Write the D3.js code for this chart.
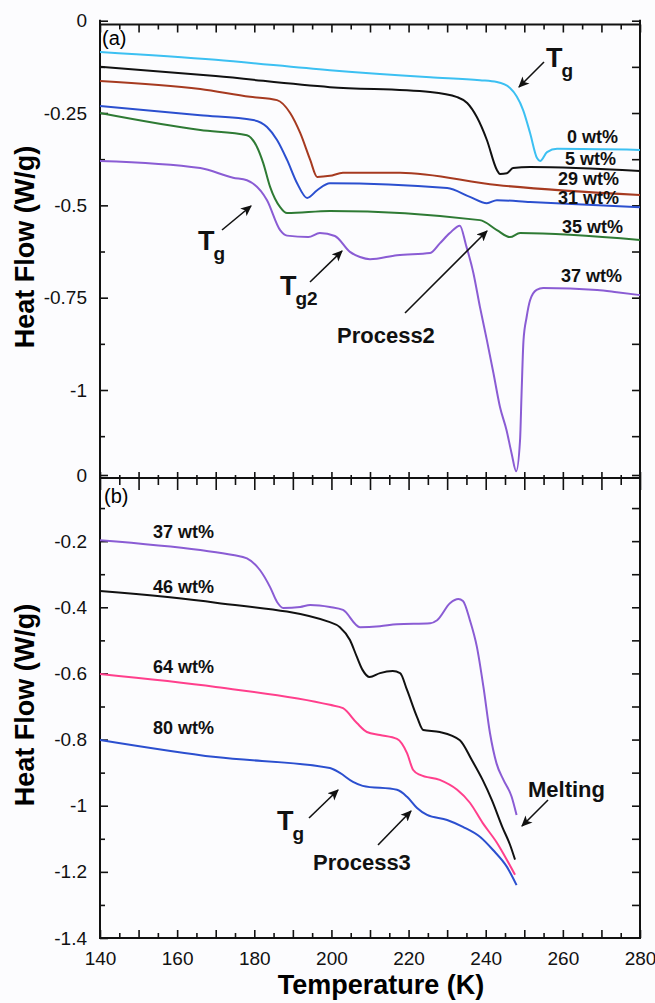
<!DOCTYPE html>
<html>
<head>
<meta charset="utf-8">
<script src="https://cdn.jsdelivr.net/npm/d3@7"></script>
<style>
body { margin: 0; background: #fcfcfe; }
svg { display: block; font-family: "Liberation Sans", Arial, Helvetica, sans-serif; }
.axis path.domain { display: none; }
.axis line { stroke: #111; stroke-width: 1.6; }
.axis text { font-size: 19px; fill: #111; font-family: "Liberation Sans", Arial, sans-serif; }
.curve { fill: none; stroke-width: 2; stroke-linejoin: round; }
.wt { font-size: 18px; font-weight: bold; fill: #111; }
.note { font-size: 22px; font-weight: bold; fill: #111; }
</style>
</head>
<body>
<svg id="chart" width="655" height="1003"></svg>
<script>
// ---- data (Temperature K, Heat Flow W/g) ----
// panel (a)
var a0wt = [[140,-0.085],[170,-0.106],[199.6,-0.134],[225.6,-0.153],[238.5,-0.161],[242.9,-0.166],[246.3,-0.182],
  [249.7,-0.242],[251.5,-0.304],[253.3,-0.372],[254.1,-0.380],[255.9,-0.356],[258.5,-0.347],[280,-0.350]];
var a5wt = [[140,-0.125],[170,-0.150],[199.6,-0.180],[225.6,-0.193],[232.6,-0.207],[235.2,-0.223],[237.7,-0.261],
  [240.3,-0.323],[242.9,-0.404],[243.7,-0.415],[245.5,-0.413],[247.1,-0.399],[251.5,-0.396],[280,-0.407]];
var a29wt = [[140,-0.163],[166,-0.185],[178.9,-0.206],[185.9,-0.215],[189.3,-0.250],[191.9,-0.304],[194.5,-0.377],
  [196.3,-0.423],[199.6,-0.420],[203,-0.412],[217.8,-0.412],[242.9,-0.445],[280,-0.472]];
var a31wt = [[140,-0.231],[166,-0.256],[179.7,-0.269],[183.3,-0.288],[185.9,-0.323],[188.5,-0.377],[191.1,-0.440],
  [193.7,-0.480],[196.3,-0.459],[199.6,-0.440],[230,-0.453],[235.9,-0.477],[240.3,-0.494],[242.9,-0.486],
  [251.5,-0.491],[280,-0.505]];
var a35wt = [[140,-0.250],[166,-0.296],[178.1,-0.310],[180.7,-0.342],[182.3,-0.385],[184.1,-0.450],[186.7,-0.505],
  [188.5,-0.521],[199.6,-0.515],[238.5,-0.540],[242.9,-0.567],[246.3,-0.586],[248.9,-0.575],[280,-0.594]];
var a37wt = [[140,-0.380],[166,-0.399],[174.5,-0.425],[178.1,-0.432],[183.3,-0.486],[186.7,-0.567],[188.5,-0.582],
  [194,-0.586],[197,-0.575],[200.9,-0.583],[204.8,-0.626],[207.4,-0.640],[210,-0.646],[217,-0.635],[225.6,-0.629],
  [228.1,-0.603],[230.7,-0.575],[233.3,-0.555],[234.9,-0.608],[236.8,-0.683],[238.5,-0.775],[240.3,-0.865],
  [242.0,-0.954],[243.7,-1.046],[245.4,-1.109],[246.7,-1.171],[247.9,-1.220],[248.9,-1.136],[249.3,-1.008],
  [249.8,-0.865],[250.6,-0.803],[251.5,-0.757],[253.2,-0.729],[254.9,-0.724],[268.9,-0.729],[274,-0.735],[280,-0.743]];

// panel (b)
var b37wt = [[140,-0.197],[166,-0.227],[174.5,-0.242],[178.1,-0.252],[181.5,-0.288],[184.1,-0.339],[185.9,-0.384],
  [187.5,-0.402],[191.9,-0.399],[194.5,-0.393],[199.6,-0.399],[203,-0.408],[207.4,-0.460],[212.6,-0.457],
  [217,-0.451],[225.6,-0.448],[227.4,-0.439],[230.8,-0.387],[232.9,-0.375],[234.1,-0.381],[235.9,-0.439],
  [237.7,-0.519],[239.4,-0.640],[241.1,-0.780],[242.8,-0.872],[244.6,-0.922],[246.7,-0.972],[248,-1.028]];
var b46wt = [[140,-0.351],[170,-0.386],[199.6,-0.445],[202.2,-0.460],[204.8,-0.499],[206.6,-0.550],[208.1,-0.590],
  [209.9,-0.611],[212.6,-0.599],[215.9,-0.593],[217.8,-0.599],[219.6,-0.650],[222.2,-0.732],[223.8,-0.771],
  [228.1,-0.777],[233.3,-0.802],[236.4,-0.862],[239.2,-0.922],[241.6,-0.983],[244.4,-1.067],[246.3,-1.118],[247.6,-1.163]];
var b64wt = [[140,-0.602],[170,-0.641],[199.6,-0.695],[203,-0.705],[206.6,-0.750],[209.2,-0.777],[212.6,-0.786],
  [217,-0.798],[219.6,-0.841],[221.2,-0.892],[223,-0.907],[228.1,-0.922],[232.6,-0.952],[235.9,-0.991],
  [239.2,-1.052],[242.9,-1.112],[245.5,-1.164],[247.6,-1.209]];
var b80wt = [[140,-0.801],[170,-0.853],[199.6,-0.886],[202.2,-0.901],[205.6,-0.928],[208.1,-0.940],[217,-0.952],
  [219.6,-0.973],[222.2,-1.007],[224.8,-1.028],[230,-1.043],[234.1,-1.064],[238.5,-1.094],[241.9,-1.134],
  [245.5,-1.185],[248,-1.240]];

// tick values
var xLabelTicks = [140, 160, 180, 200, 220, 240, 260, 280];
var xMajorTicks = d3.range(140, 281, 10);
var xMinorTicks = d3.range(145, 280, 10);
var yATicks = [0, -0.25, -0.5, -0.75, -1];
var yAMinor = [-0.125, -0.375, -0.625, -0.875, -1.125];
var yBTicks = [0, -0.2, -0.4, -0.6, -0.8, -1, -1.2, -1.4];
var yBMinor = [-0.1, -0.3, -0.5, -0.7, -0.9, -1.1, -1.3];

var svg = d3.select("#chart");

// scales
var x = d3.scaleLinear().domain([140, 280]).range([100, 640]);
var yA = d3.scaleLinear().domain([0, -1]).range([20.7, 390]);
var yB = d3.scaleLinear().domain([0, -1.4]).range([475, 938]);

var left = 100, right = 640, topA = 24.5, mid = 478, bottom = 938;
var fmt = function(d) { return String(d); };

// arrow marker
svg.append("defs").append("marker")
  .attr("id", "head")
  .attr("viewBox", "0 -5 10 10")
  .attr("refX", 9)
  .attr("markerUnits", "userSpaceOnUse")
  .attr("markerWidth", 11)
  .attr("markerHeight", 11)
  .attr("orient", "auto")
  .append("path")
  .attr("d", "M0,-4.5L10,0L0,4.5L2.5,0Z")
  .attr("fill", "#111");

// ---- axes: left ----
svg.append("g").attr("class", "axis").attr("transform", `translate(${left},0)`)
  .call(d3.axisLeft(yA).tickValues(yATicks).tickSize(-8).tickPadding(13).tickFormat(fmt));
svg.append("g").attr("class", "axis").attr("transform", `translate(${left},0)`)
  .call(d3.axisLeft(yA).tickValues(yAMinor).tickSize(-5).tickFormat(""));
svg.append("g").attr("class", "axis").attr("transform", `translate(${left},0)`)
  .call(d3.axisLeft(yB).tickValues(yBTicks).tickSize(-8).tickPadding(13).tickFormat(fmt));
svg.append("g").attr("class", "axis").attr("transform", `translate(${left},0)`)
  .call(d3.axisLeft(yB).tickValues(yBMinor).tickSize(-5).tickFormat(""));

// ---- axes: right ----
svg.append("g").attr("class", "axis").attr("transform", `translate(${right},0)`)
  .call(d3.axisRight(yA).tickValues(yATicks.concat(yAMinor)).tickSize(-8).tickFormat(""));
svg.append("g").attr("class", "axis").attr("transform", `translate(${right},0)`)
  .call(d3.axisRight(yB).tickValues(yBTicks.slice(0, 7).concat(yBMinor)).tickSize(-8).tickFormat(""));

// ---- axes: top of (a) ----
svg.append("g").attr("class", "axis").attr("transform", `translate(0,${topA})`)
  .call(d3.axisTop(x).tickValues(xMajorTicks).tickSize(-8).tickFormat(""));
svg.append("g").attr("class", "axis").attr("transform", `translate(0,${topA})`)
  .call(d3.axisTop(x).tickValues(xMinorTicks).tickSize(-5).tickFormat(""));

// ---- axes: junction between (a) and (b) ----
svg.append("g").attr("class", "axis").attr("transform", `translate(0,${mid})`)
  .call(d3.axisTop(x).tickValues(xMajorTicks).tickSize(6).tickFormat(""));
svg.append("g").attr("class", "axis").attr("transform", `translate(0,${mid})`)
  .call(d3.axisBottom(x).tickValues(xMajorTicks).tickSize(12).tickFormat(""));
svg.append("g").attr("class", "axis").attr("transform", `translate(0,${mid})`)
  .call(d3.axisTop(x).tickValues(xMinorTicks).tickSize(3).tickFormat(""));
svg.append("g").attr("class", "axis").attr("transform", `translate(0,${mid})`)
  .call(d3.axisBottom(x).tickValues(xMinorTicks).tickSize(7).tickFormat(""));

// ---- axes: bottom ----
svg.append("g").attr("class", "axis").attr("transform", `translate(0,${bottom})`)
  .call(d3.axisBottom(x).tickValues(xMajorTicks).tickSize(-8).tickFormat(""));
svg.append("g").attr("class", "axis").attr("transform", `translate(0,${bottom})`)
  .call(d3.axisBottom(x).tickValues(xMinorTicks).tickSize(-5).tickFormat(""));
svg.append("g").attr("class", "axis").attr("transform", `translate(0,${bottom})`)
  .call(d3.axisBottom(x).tickValues(xLabelTicks).tickSize(0).tickPadding(13.5).tickFormat(fmt));

// ---- frame ----
var frame = svg.append("g").attr("stroke", "#111").attr("stroke-width", 2).attr("fill", "none");
frame.append("line").attr("x1", left).attr("x2", left).attr("y1", 19.7).attr("y2", bottom + 1);
frame.append("line").attr("x1", right).attr("x2", right).attr("y1", 19.7).attr("y2", bottom + 1);
frame.append("line").attr("x1", left).attr("x2", right).attr("y1", topA).attr("y2", topA);
frame.append("line").attr("x1", left).attr("x2", right).attr("y1", mid).attr("y2", mid);
frame.append("line").attr("x1", left - 1).attr("x2", right + 1).attr("y1", bottom).attr("y2", bottom);

// ---- curves ----
var lineA = d3.line().x(d => x(d[0])).y(d => yA(d[1])).curve(d3.curveMonotoneX);
var lineB = d3.line().x(d => x(d[0])).y(d => yB(d[1])).curve(d3.curveMonotoneX);

var seriesA = [
  { data: a0wt, color: "#3cc0f2" },
  { data: a5wt, color: "#111111" },
  { data: a29wt, color: "#a63a20" },
  { data: a31wt, color: "#2b4fcf" },
  { data: a35wt, color: "#2e7a34" },
  { data: a37wt, color: "#8a5cd4" }
];
var seriesB = [
  { data: b37wt, color: "#8a5cd4" },
  { data: b46wt, color: "#111111" },
  { data: b64wt, color: "#ff3f8c" },
  { data: b80wt, color: "#2b4fcf" }
];

seriesA.forEach(function(s) {
  svg.append("path").attr("class", "curve").attr("stroke", s.color).attr("d", lineA(s.data));
});
seriesB.forEach(function(s) {
  svg.append("path").attr("class", "curve").attr("stroke", s.color).attr("d", lineB(s.data));
});

// ---- curve labels ----
var labelsA = [["0 wt%", 618, 143], ["5 wt%", 616, 165], ["29 wt%", 619, 185],
  ["31 wt%", 619, 204], ["35 wt%", 623, 233], ["37 wt%", 622, 282]];
labelsA.forEach(function(l) {
  svg.append("text").attr("class", "wt").attr("text-anchor", "end")
    .attr("x", l[1]).attr("y", l[2]).text(l[0]);
});
var labelsB = [["37 wt%", 538], ["46 wt%", 593], ["64 wt%", 673], ["80 wt%", 734]];
labelsB.forEach(function(l) {
  svg.append("text").attr("class", "wt").attr("x", 153).attr("y", l[1]).text(l[0]);
});

// ---- panel tags ----
svg.append("text").attr("x", 102).attr("y", 45).style("font-size", "20px").text("(a)");
svg.append("text").attr("x", 104).attr("y", 503).style("font-size", "20px").text("(b)");

// ---- annotations ----
function arrow(x1, y1, x2, y2) {
  svg.append("line")
    .attr("x1", x1).attr("y1", y1).attr("x2", x2).attr("y2", y2)
    .attr("stroke", "#111").attr("stroke-width", 1.6)
    .attr("marker-end", "url(#head)");
}
function tSub(xp, yp, sub) {
  var t = svg.append("text").attr("x", xp).attr("y", yp)
    .style("font-weight", "bold").style("fill", "#111");
  t.append("tspan").style("font-size", "27px").text("T");
  t.append("tspan").style("font-size", "19px").attr("dx", -1).attr("dy", 10).text(sub);
}

tSub(546, 67, "g");
arrow(544, 62, 519, 87);

tSub(198, 250, "g");
arrow(222, 230, 251, 206);

tSub(280, 295, "g2");
arrow(310, 282, 342, 251);

svg.append("text").attr("class", "note").attr("x", 337).attr("y", 343).text("Process2");
arrow(405, 313, 487, 231);

tSub(277, 830, "g");
arrow(309, 818, 338, 790);

svg.append("text").attr("class", "note").attr("x", 313).attr("y", 870).text("Process3");
arrow(378, 845, 411, 811);

svg.append("text").attr("class", "note").attr("x", 528).attr("y", 797).text("Melting");
arrow(548, 800, 522, 826);

// ---- axis titles ----
svg.append("text")
  .attr("transform", "translate(34,247) rotate(-90)")
  .attr("text-anchor", "middle")
  .style("font-size", "27px").style("font-weight", "bold")
  .text("Heat Flow (W/g)");
svg.append("text")
  .attr("transform", "translate(34,705) rotate(-90)")
  .attr("text-anchor", "middle")
  .style("font-size", "27px").style("font-weight", "bold")
  .text("Heat Flow (W/g)");
svg.append("text")
  .attr("x", 381).attr("y", 994)
  .attr("text-anchor", "middle")
  .style("font-size", "27px").style("font-weight", "bold")
  .text("Temperature (K)");
</script>
</body>
</html>
